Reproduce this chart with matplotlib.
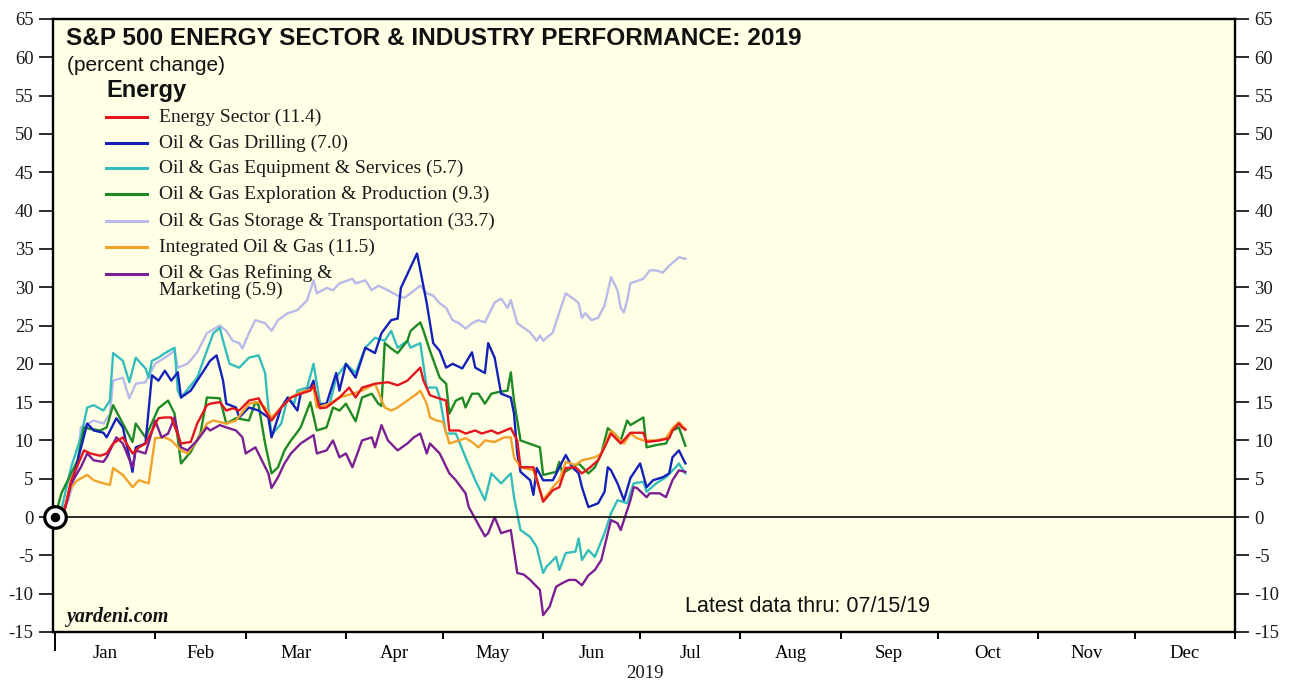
import matplotlib
matplotlib.use("Agg")
import matplotlib.pyplot as plt
from matplotlib.lines import Line2D

# ---------------- data (day of year 2019, 0 = Jan 1; percent change) ----------------
energy_days = [0,3,5,9,11,14,16,18,21,24,26,28,32,34,36,39,42,44,47,48,51,53,55,57,60,63,65,67,70,73,
               76,79,80,82,84,88,91,93,95,99,103,106,109,113,114,116,118,121,122,125,127,130,132,135,137,141,
               143,144,148,151,154,156,158,161,163,165,168,170,172,175,178,182,183,187,190,191,193,194,195]
energy_vals = [0,1,4.8,8.7,8.3,8,8.3,9.6,10.4,8.3,9.1,9.6,12.9,13,13,9.6,9.8,12.2,14.6,14.8,
               15,13.9,14.2,13.9,15.2,15.5,13.9,12.6,14.3,15.6,16.1,16.5,17.2,14.2,14.3,15.6,16.9,15.6,16.9,17.4,
               17.6,17.2,17.8,19.5,17.8,15.9,15.6,15.2,11.3,11.3,10.9,11.3,10.9,11.3,10.9,11.6,10,6.5,6.5,2,
               3.5,3.9,6.4,6.5,5.7,6.3,7.4,9.1,10.9,9.6,11,11,9.8,10,10.3,11.3,12.2,11.7,11.4]

drill_days = [0,3,6,10,12,15,16,19,21,24,25,28,30,32,34,36,38,39,42,46,48,50,52,53,56,57,60,63,66,67,
              70,72,75,76,79,80,81,84,87,88,90,93,96,99,101,104,106,107,110,112,115,117,119,121,123,126,129,130,133,134,
              136,138,141,142,143,144,147,148,149,151,154,158,160,162,163,165,168,170,171,172,174,176,178,181,183,185,188,190,191,193,195]
drill_vals = [0,1,5.7,12.2,11.3,11,10.4,12.9,11.7,5.9,9.1,9.6,18.5,17.8,19.1,17.8,18.9,15.6,16.5,19.1,
              20.4,21.1,17.8,14.8,14.3,13,14.3,13.9,13,10.4,14.3,15.6,13.9,16.1,16.9,17.8,14.6,14.8,18.8,16.5,
              20,18.2,22.1,21.4,24,25.7,25.9,29.9,32.6,34.4,27.9,22.7,21.7,19.5,20,19.4,21.5,19.5,18.8,22.7,
              20.8,16.1,15.6,13.5,8.3,5.9,4.8,2.9,6.4,4.8,4.8,8.1,6.5,5.7,3.9,1.3,1.8,3.3,6.5,6.1,
              4.4,2.2,5.1,7,3.9,4.8,5.2,5.7,7.8,8.7,7.0]

equip_days = [0,2,5,8,10,12,15,17,18,21,23,25,28,29,30,32,34,37,38,39,44,47,49,51,52,54,57,60,63,65,
              66,67,70,72,74,75,78,80,81,82,85,87,90,93,96,99,102,104,106,109,110,113,115,118,119,121,124,127,130,133,
              135,138,141,142,144,147,149,151,152,155,156,158,161,162,163,165,167,170,172,174,177,178,179,182,183,186,189,192,193,195]
equip_vals = [0,1,6.5,10.4,14.3,14.6,13.9,15.2,21.4,20.4,17.6,20.8,19.4,18.2,20.4,20.8,21.4,22.1,16.5,15.6,
              18.2,21.7,24,24.7,23,20,19.5,20.8,21.1,18.8,14.3,10.7,12.2,15.6,14.8,16.5,16.9,20,17.4,14.8,
              14.8,18.2,20,18.8,22.1,23.4,23,24.3,22.1,23,22.1,22.7,16.9,16.9,15.6,10.9,10.9,7.8,4.8,2.2,
              5.7,4.4,5.7,2.6,-1.7,-2.6,-3.9,-7.3,-6.5,-5.2,-6.9,-4.7,-4.5,-2.8,-5.6,-4.3,-5.2,-2.1,0.5,2.2,
              1.8,3.1,4.4,4.6,3.3,4.4,5.2,6.5,7,5.7]

explor_days = [0,2,7,9,11,14,16,18,20,24,25,28,32,35,37,39,42,45,47,51,53,56,60,62,63,65,67,69,71,73,
               75,76,79,81,84,86,88,90,93,95,98,100,101,102,104,106,109,110,113,114,116,119,121,122,124,126,127,129,131,133,
               135,137,140,141,142,144,148,150,151,155,156,157,160,162,165,167,169,171,173,175,177,178,182,183,186,189,191,193,195]
explor_vals = [0,3.1,7.4,11.7,11.5,11.3,11.7,14.6,13,9.8,12.2,10.4,14.2,15.2,13.5,7,8.5,10.9,15.6,15.5,
               12.2,12.9,12.6,15,14.6,9.6,5.7,6.5,8.7,10,11.1,11.7,15,11.3,11.7,14.3,13.9,14.8,12.5,15.6,
               16.1,14.8,14.5,22.7,22,21.4,23,24.3,25.4,24.3,21.7,18.2,17.4,13.5,15.2,15.6,14.3,16.1,16.1,14.8,
               16.1,16.3,16.5,18.9,15.2,10,9.4,9.1,5.5,5.9,7.2,5.7,6.5,7,5.7,6.5,8.3,11.6,10.9,10,
               12.6,12,13,9.1,9.4,9.6,11.3,11.7,9.3]

storage_days = [0,4,7,8,12,15,17,18,21,23,25,28,31,34,37,38,41,44,47,51,53,55,57,58,60,62,65,67,69,72,
                75,78,80,81,84,86,88,92,93,96,98,100,103,106,108,110,113,115,117,119,121,123,125,127,129,131,133,136,138,140,
                141,143,144,147,149,150,151,154,156,158,161,162,163,164,166,168,170,172,174,175,176,177,178,182,184,186,188,190,193,195]
storage_vals = [0,2,6.5,11.7,12.6,12.2,13.5,17.8,18.2,15.5,17.4,17.6,20,20.8,21.7,19.5,20,21.5,24,25,
                24.3,23,22.7,22,24,25.7,25.3,24.3,25.7,26.6,27,28.3,30.9,29.2,29.9,29.6,30.5,31.1,30.5,30.9,
                29.6,30.2,29.6,28.9,28.6,29.2,30.2,29.2,28.9,27.9,27.3,25.7,25.3,24.6,25.3,25.7,25.4,28,28.5,27.3,
                28.3,25.3,25,24.1,23,23.7,23,24.1,26.7,29.2,28.3,27.9,26,26.6,25.7,26,27.6,31.3,29.6,27.3,
                26.7,28.3,30.5,31.1,32.2,32.2,31.9,32.8,33.9,33.7]

integ_days = [0,3,5,7,10,12,15,17,18,21,24,26,29,31,34,36,39,41,44,47,49,53,56,60,63,65,67,70,73,76,
              80,81,85,88,92,95,99,102,104,106,109,112,113,115,116,118,120,122,125,127,129,131,133,136,139,141,142,144,148,151,
              154,156,158,161,163,165,167,169,172,174,176,178,180,182,186,189,191,193,195]
integ_vals = [0,1.3,3.9,4.8,5.5,4.8,4.4,4.2,6.4,5.5,3.9,4.8,4.4,10.3,10.4,10,8.7,8.3,10,12.2,
              12.6,12.2,12.6,14.8,15,14.3,13,14.3,15.6,16.3,16.8,14.3,14.8,15.6,16.1,16.5,17.4,14.3,13.9,14.3,
              15.2,16.1,16.5,14.8,13,12.6,12.4,9.6,10,10.3,9.8,9.1,10,9.8,10.4,10.4,7.8,6.5,6.1,2.2,
              3.9,4.8,7.2,6.8,7.4,7.6,7.8,8.3,11.3,10.4,9.6,10.9,10.3,10,10,10.3,11.6,12.4,11.5]

refin_days = [0,3,5,8,10,12,15,16,19,21,24,25,28,31,33,35,37,39,41,44,47,48,51,53,56,58,59,62,64,66,
              67,69,71,73,76,80,81,84,86,88,90,92,95,98,99,101,103,106,109,111,113,115,116,119,122,124,127,128,131,133,
              134,136,138,141,143,145,147,150,151,153,155,157,159,161,163,165,167,169,171,172,174,175,178,179,180,183,184,187,189,191,193,195]
refin_vals = [0,0.9,4.4,6.5,8.3,7.4,7.2,7.8,10.4,9.6,6.5,8.7,8.3,12.6,10.4,10.9,13,9.1,8.7,10,
              11.7,11.3,12,11.7,11.3,10.4,8.3,9.1,7.4,5.7,3.8,5.2,7,8.3,9.6,10.7,8.3,8.7,10,7.8,
              8.3,6.5,10,10.4,9.1,12,10,8.7,9.6,10.4,10.9,8.3,9.6,8.3,5.7,4.8,3.1,1.3,-1,-2.5,
              -2.1,0,-2.1,-1.7,-7.3,-7.5,-8.2,-9.5,-12.8,-11.7,-9.1,-8.6,-8.2,-8.2,-8.9,-7.6,-6.9,-5.6,-2.1,-0.4,
              -0.8,-1.7,2.2,3.9,3.8,2.6,3.1,3.1,2.6,4.8,6.1,5.9]

series_labels = ["Energy Sector (11.4)", "Oil & Gas Drilling (7.0)", "Oil & Gas Equipment & Services (5.7)",
                 "Oil & Gas Exploration & Production (9.3)", "Oil & Gas Storage & Transportation (33.7)",
                 "Integrated Oil & Gas (11.5)", "Oil & Gas Refining &\nMarketing (5.9)"]
series_colors = ["#E3161D", "#1421B8", "#35BDBD", "#1F8A24", "#B9B9EA", "#F2A22A", "#7B1F94"]
series_data = [(energy_days, energy_vals), (drill_days, drill_vals), (equip_days, equip_vals),
               (explor_days, explor_vals), (storage_days, storage_vals), (integ_days, integ_vals),
               (refin_days, refin_vals)]
draw_order = [4, 2, 3, 1, 5, 6, 0]

month_starts = [0, 31, 59, 90, 120, 151, 181, 212, 243, 273, 304, 334, 365]
month_names = ["Jan", "Feb", "Mar", "Apr", "May", "Jun", "Jul", "Aug", "Sep", "Oct", "Nov", "Dec"]
y_ticks = list(range(-15, 66, 5))

# ---------------- figure ----------------
W, H = 1289, 682
fig = plt.figure(figsize=(W / 100, H / 100), dpi=100, facecolor="white")
ax = fig.add_axes([53 / W, 1 - 632 / H, (1235 - 53) / W, (632 - 19) / H])
ax.set_facecolor("#FFFFE6")
ax.set_xlim(-0.6, 365)
ax.set_ylim(-15, 65)

SERIF = ["Liberation Serif", "DejaVu Serif"]
SANS = ["Liberation Sans", "DejaVu Sans"]

for i in draw_order:
    d, v = series_data[i]
    ax.plot(d, v, color=series_colors[i], lw=1.7, solid_joinstyle="round", zorder=3)

ax.axhline(0, color="#1a1a1a", lw=1.3, zorder=4)

# origin marker
ax.plot([0], [0], marker="o", ms=15.5, mfc="white", mec="black", mew=2.3, clip_on=False, zorder=10)
ax.plot([0], [0], marker="o", ms=5.8, mfc="black", mec="black", clip_on=False, zorder=11)

for s in ax.spines.values():
    s.set_linewidth(1.7)
    s.set_color("black")

# y axis both sides
ax.set_yticks(y_ticks)
ax.set_yticklabels([str(t) for t in y_ticks], fontfamily=SERIF, fontsize=13.5)
ax.tick_params(axis="y", which="major", left=True, right=True, labelleft=True, labelright=True,
               direction="out", length=10, width=1.3, pad=4, colors="#1a1a1a")

# x axis months
mids = [(month_starts[k] + month_starts[k + 1]) / 2 for k in range(12)]
ax.set_xticks(month_starts)
ax.set_xticklabels([])
ax.set_xticks(mids, minor=True)
ax.set_xticklabels(month_names, minor=True, fontfamily=SERIF, fontsize=13.5)
ax.tick_params(axis="x", which="major", direction="out", length=5, width=1.4, top=False)
ax.tick_params(axis="x", which="minor", length=0, pad=9, top=False)
ax.xaxis.get_major_ticks()[0].tick1line.set_markersize(14)


def ftxt(px, py, s, **kw):
    fig.text(px / W, 1 - py / H, s, **kw)


ftxt(645, 673, "2019", ha="center", va="center", fontfamily=SERIF, fontsize=13.5, color="#1a1a1a")

# title block
ftxt(66, 45, "S&P 500 ENERGY SECTOR & INDUSTRY PERFORMANCE: 2019", ha="left", va="baseline",
     fontfamily=SANS, fontweight="bold", fontsize=17.6, color="#111111")
ftxt(67, 71, "(percent change)", ha="left", va="baseline", fontfamily=SANS, fontsize=15, color="#111111")
ftxt(106, 97, "Energy", ha="left", va="baseline", fontfamily=SANS, fontweight="bold", fontsize=17, color="#111111")

# legend
row_y = [117, 143, 168, 194, 221, 247, 274]
for i in range(7):
    y = row_y[i]
    fig.lines.append(Line2D([106 / W, 147 / W], [1 - y / H, 1 - y / H], transform=fig.transFigure,
                            color=series_colors[i], lw=2.2))
    if "\n" in series_labels[i]:
        ftxt(159, y - 10, series_labels[i], ha="left", va="top", fontfamily=SERIF, fontsize=14,
             color="#1a1a1a", linespacing=0.98)
    else:
        ftxt(159, y, series_labels[i], ha="left", va="center", fontfamily=SERIF, fontsize=14,
             color="#1a1a1a")

ftxt(66, 617, "yardeni.com", ha="left", va="center", fontfamily=SERIF, fontweight="bold",
     fontstyle="italic", fontsize=14.5, color="#111111")
ftxt(685, 606, "Latest data thru: 07/15/19", ha="left", va="center", fontfamily=SANS, fontsize=15.5,
     color="#111111")

fig.savefig("out.png", dpi=100, facecolor="white")
